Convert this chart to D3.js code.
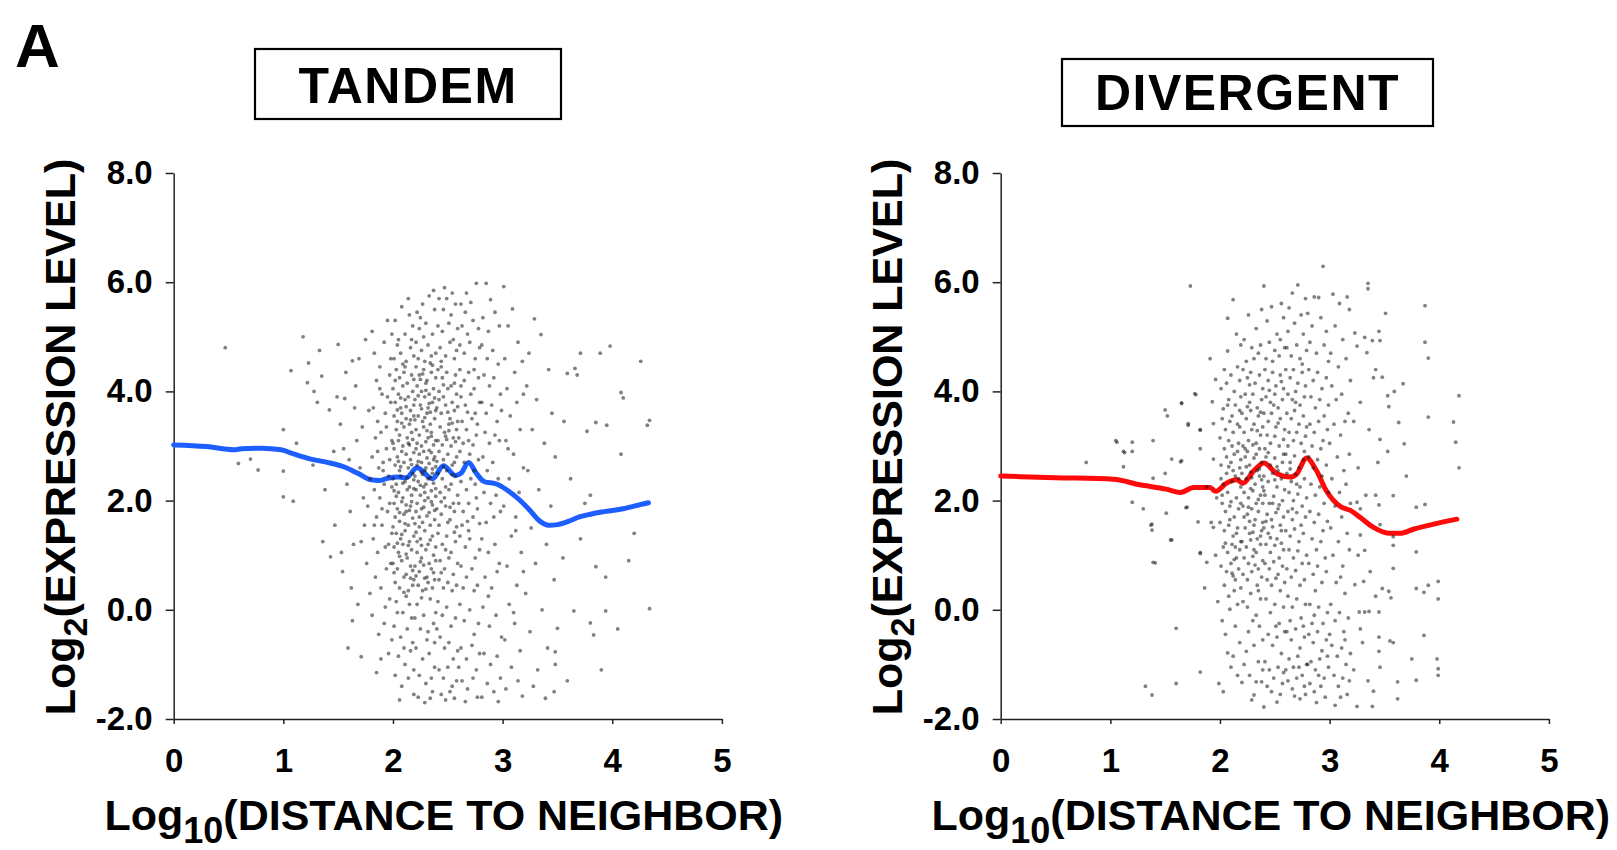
<!DOCTYPE html>
<html>
<head>
<meta charset="utf-8">
<script src="https://cdn.jsdelivr.net/npm/d3@7"></script>
<style>
  html, body { margin: 0; padding: 0; background: #fff; }
  svg { display: block; font-family: "Liberation Sans", Arial, Helvetica, sans-serif; font-weight: bold; }
</style>
</head>
<body>
<svg id="chart" width="1617" height="850"></svg>
<script>
// Axis ticks
const xTicks = [0, 1, 2, 3, 4, 5];
const yTicks = [-2, 0, 2, 4, 6, 8];
const panelTitles = ["TANDEM", "DIVERGENT"];

// Running-average trend: [log10 distance, log2 expression]
const tandemTrend = [[0,3.02],[0.3,2.99],[0.55,2.93],[0.62,2.95],[0.8,2.96],[0.98,2.93],[1.1,2.85],[1.25,2.76],[1.4,2.70],[1.55,2.62],[1.68,2.50],[1.8,2.38],[1.88,2.37],[1.95,2.41],[2.05,2.43],[2.12,2.42],[2.22,2.60],[2.36,2.40],[2.46,2.64],[2.57,2.46],[2.62,2.50],[2.69,2.70],[2.76,2.50],[2.83,2.35],[2.95,2.30],[3.05,2.18],[3.15,2.02],[3.25,1.82],[3.33,1.64],[3.42,1.55],[3.5,1.56],[3.6,1.62],[3.7,1.70],[3.8,1.75],[3.9,1.79],[4.0,1.82],[4.1,1.85],[4.2,1.90],[4.33,1.96]];
const divergentTrend = [[0,2.45],[0.5,2.42],[1.03,2.39],[1.27,2.29],[1.51,2.21],[1.64,2.15],[1.76,2.24],[1.91,2.24],[1.96,2.17],[2.06,2.32],[2.15,2.38],[2.21,2.32],[2.31,2.55],[2.40,2.69],[2.52,2.49],[2.64,2.43],[2.70,2.49],[2.79,2.78],[2.88,2.55],[2.97,2.18],[3.10,1.89],[3.19,1.82],[3.28,1.69],[3.40,1.51],[3.55,1.40],[3.64,1.40],[3.77,1.48],[3.95,1.57],[4.16,1.66]];

// Individual genes: [log10 distance, log2 expression]
const tandemPoints = [
[0.47,4.80],[0.59,2.68],[0.70,2.76],[0.77,2.56],[1.00,2.54],[1.00,2.07],[1.09,1.99],[1.18,5.00],[1.07,4.38],[1.23,4.52],[1.33,4.75],[1.22,4.16],[1.35,4.28],[1.28,4.00],[1.31,3.80],[1.00,3.30],[1.42,3.66],[1.49,3.90],[1.43,0.97],[1.46,2.90],[1.27,2.65],[1.38,2.20],[1.12,3.05],[1.47,1.55],[1.36,1.25],
[1.50,4.86],[1.56,3.87],[1.63,4.56],[1.69,4.60],[1.59,-0.70],[1.71,-0.86],[1.52,3.40],[1.55,2.95],[1.58,2.30],[1.61,1.80],[1.64,1.20],[1.67,3.10],[1.70,2.60],[1.73,2.05],[1.76,0.85],[1.78,3.65],[1.53,1.05],[1.62,0.40],[1.66,4.10],[1.72,3.35],[1.74,1.55],[1.57,4.35],[1.79,2.40],[1.68,0.10],[1.75,4.95],[1.60,2.75],[1.77,1.90],[1.65,3.70],[1.71,1.25],[1.54,0.70],[1.79,0.30],[1.63,-0.20],
[1.81,5.10],[1.95,5.30],[1.83,4.70],[1.88,4.45],[1.92,4.90],[1.85,4.20],[1.90,3.95],[1.97,4.30],[1.82,3.70],[1.86,3.45],[1.93,3.60],[1.98,3.80],[1.84,3.15],[1.89,3.25],[1.94,2.95],[1.99,3.10],[1.81,2.80],[1.87,2.60],[1.91,2.70],[1.96,2.45],[1.83,2.20],[1.88,2.05],[1.92,2.30],[1.97,1.95],[1.85,1.70],[1.90,1.55],[1.95,1.80],[1.99,1.40],[1.82,1.30],[1.86,1.05],[1.93,1.15],[1.98,0.85],[1.84,0.60],[1.89,0.40],[1.94,0.75],[1.97,0.20],[1.81,-0.10],[1.87,-0.45],[1.92,-0.25],[1.96,-0.80],[1.85,-1.15],[1.99,-0.55],[1.91,2.55],[1.94,3.35],[1.96,1.20],[1.88,4.05],[1.99,2.25],[1.93,0.05],[1.98,4.60],[1.86,2.90],[1.90,1.85],[1.95,3.90],[1.83,1.55],[1.97,2.75],[1.89,-0.90],[1.99,5.05],
[2.02,5.30],[2.08,5.55],[2.14,5.70],[2.18,5.20],[2.05,4.95],[2.11,5.05],[2.16,4.80],[2.01,4.60],[2.07,4.70],[2.12,4.55],[2.19,4.65],[2.04,4.85],[2.15,5.40],[2.09,4.50],[2.17,4.95],
[2.03,4.40],[2.06,4.25],[2.10,4.35],[2.13,4.15],[2.17,4.30],[2.00,4.05],[2.05,3.95],[2.09,4.10],[2.14,3.90],[2.18,4.00],[2.02,3.80],[2.07,3.70],[2.11,3.85],[2.16,3.65],[2.19,3.75],[2.01,3.55],[2.04,3.45],[2.08,3.60],[2.12,3.50],[2.15,3.40],[2.19,3.55],[2.03,3.30],[2.06,3.20],[2.10,3.35],[2.13,3.15],[2.17,3.25],[2.00,3.05],[2.05,3.10],[2.09,3.00],[2.14,3.05],[2.18,3.12],[2.11,4.45],[2.07,3.88],[2.16,3.48],[2.02,4.20],[2.12,3.72],[2.19,4.22],[2.04,3.66],[2.15,3.02],[2.08,3.42],
[2.01,2.95],[2.04,2.80],[2.08,2.90],[2.12,2.85],[2.16,2.75],[2.19,2.88],[2.02,2.65],[2.06,2.55],[2.10,2.70],[2.14,2.60],[2.18,2.50],[2.00,2.40],[2.03,2.30],[2.07,2.45],[2.11,2.35],[2.15,2.25],[2.19,2.38],[2.05,2.15],[2.09,2.05],[2.13,2.20],[2.17,2.10],[2.01,1.95],[2.04,1.85],[2.08,1.98],[2.12,1.80],[2.16,1.90],[2.02,1.70],[2.06,1.62],[2.10,1.75],[2.14,1.55],[2.18,1.68],[2.00,1.52],[2.07,2.62],[2.13,2.42],[2.17,1.98],[2.03,2.08],[2.11,1.58],[2.19,2.22],[2.05,2.72],[2.15,1.82],[2.09,2.32],[2.01,2.18],[2.17,2.66],[2.12,1.92],[2.06,1.78],
[2.03,1.40],[2.07,1.30],[2.11,1.45],[2.15,1.25],[2.19,1.35],[2.01,1.15],[2.05,1.05],[2.09,1.20],[2.13,0.95],[2.17,1.10],[2.00,0.85],[2.04,0.75],[2.08,0.90],[2.12,0.65],[2.16,0.80],[2.19,0.55],[2.02,0.50],[2.06,0.40],[2.10,0.60],[2.14,0.35],[2.18,0.45],[2.08,1.38],[2.12,1.02],[2.16,0.58],[2.04,1.22],[2.10,0.32],[2.06,0.98],[2.14,1.18],[2.18,0.72],[2.01,0.68],
[2.03,0.15],[2.09,-0.05],[2.15,0.10],[2.01,-0.30],[2.07,-0.50],[2.13,-0.35],[2.18,-0.60],[2.05,-0.85],[2.11,-1.00],[2.16,-0.75],[2.02,-1.20],[2.08,-1.40],[2.14,-1.25],[2.19,-1.55],[2.06,-1.65],[2.12,0.25],[2.17,-0.15],[2.04,-0.05],[2.10,-0.70],[2.19,-1.10],
[2.22,5.45],[2.27,5.60],[2.33,5.75],[2.38,5.50],[2.24,5.15],[2.30,5.25],[2.36,5.05],[2.21,4.90],[2.26,4.75],[2.32,4.85],[2.39,4.70],[2.23,4.60],[2.29,4.55],[2.35,4.65],[2.37,5.85],[2.28,5.00],[2.34,4.52],[2.25,5.35],
[2.21,4.45],[2.24,4.30],[2.28,4.40],[2.31,4.20],[2.35,4.35],[2.39,4.25],[2.22,4.10],[2.26,4.00],[2.30,4.15],[2.33,3.95],[2.37,4.05],[2.20,3.85],[2.25,3.75],[2.29,3.90],[2.32,3.70],[2.36,3.80],[2.39,3.65],[2.23,3.55],[2.27,3.45],[2.31,3.60],[2.34,3.40],[2.38,3.50],[2.21,3.30],[2.24,3.20],[2.28,3.35],[2.32,3.15],[2.35,3.25],[2.39,3.10],[2.22,3.05],[2.26,3.00],[2.30,3.08],[2.37,3.02],[2.25,4.22],[2.33,3.78],[2.29,3.52],[2.36,4.48],[2.23,3.92],[2.31,3.28],[2.38,3.88],[2.27,4.32],[2.34,3.62],[2.20,3.48],[2.26,3.68],[2.35,3.18],[2.30,4.02],
[2.21,2.95],[2.24,2.85],[2.28,2.90],[2.31,2.78],[2.35,2.88],[2.38,2.80],[2.22,2.65],[2.26,2.70],[2.29,2.55],[2.33,2.68],[2.36,2.58],[2.39,2.62],[2.20,2.45],[2.23,2.35],[2.27,2.48],[2.30,2.30],[2.34,2.42],[2.37,2.32],[2.21,2.20],[2.25,2.10],[2.28,2.25],[2.32,2.05],[2.35,2.18],[2.39,2.08],[2.22,1.95],[2.26,1.85],[2.29,2.00],[2.33,1.78],[2.36,1.92],[2.24,1.70],[2.27,1.60],[2.31,1.72],[2.34,1.55],[2.38,1.65],[2.20,1.58],[2.23,2.72],[2.30,2.60],[2.37,2.75],[2.25,2.28],[2.32,2.40],[2.39,2.22],[2.28,1.88],[2.35,1.98],[2.21,1.80],[2.33,2.92],[2.26,2.52],[2.38,1.82],[2.29,2.15],[2.24,1.52],[2.36,2.50],
[2.21,1.42],[2.25,1.30],[2.29,1.45],[2.32,1.20],[2.36,1.35],[2.39,1.15],[2.22,1.05],[2.26,0.95],[2.30,1.10],[2.33,0.85],[2.37,1.00],[2.20,0.80],[2.24,0.70],[2.28,0.82],[2.31,0.60],[2.35,0.75],[2.38,0.55],[2.23,0.45],[2.27,0.35],[2.32,0.50],[2.36,0.40],[2.21,0.62],[2.34,1.28],[2.26,1.18],[2.39,0.90],[2.29,0.58],[2.22,1.25],[2.37,0.68],[2.30,0.38],[2.25,0.88],
[2.22,0.10],[2.28,-0.10],[2.34,0.20],[2.39,-0.05],[2.25,-0.35],[2.31,-0.55],[2.37,-0.25],[2.21,-0.70],[2.27,-0.90],[2.33,-0.80],[2.38,-1.05],[2.24,-1.20],[2.30,-1.35],[2.36,-1.50],[2.23,-1.60],[2.29,-1.70],[2.35,-1.25],[2.26,0.22],[2.32,-0.40],[2.38,-0.60],[2.20,-0.15],[2.34,-1.62],
[2.42,5.70],[2.46,5.50],[2.49,5.70],[2.53,5.40],[2.57,5.60],[2.41,5.20],[2.45,5.10],[2.51,5.25],[2.55,4.95],[2.59,5.15],[2.43,4.80],[2.48,4.65],[2.52,4.90],[2.56,4.60],[2.44,4.55],[2.58,4.75],[2.47,5.90],[2.54,5.80],
[2.41,4.40],[2.45,4.25],[2.49,4.35],[2.53,4.10],[2.57,4.30],[2.42,4.00],[2.46,3.90],[2.50,4.05],[2.54,3.80],[2.58,3.95],[2.40,3.70],[2.44,3.60],[2.48,3.75],[2.52,3.50],[2.56,3.65],[2.59,3.45],[2.43,3.35],[2.47,3.25],[2.51,3.40],[2.55,3.15],[2.58,3.30],[2.41,3.10],[2.45,3.02],[2.49,3.12],[2.53,3.00],[2.57,3.08],[2.44,4.45],[2.50,3.62],[2.56,4.15],[2.48,3.18],[2.42,3.85],[2.54,3.42],[2.46,4.12],[2.59,3.72],[2.51,3.28],
[2.42,2.90],[2.46,2.75],[2.50,2.85],[2.54,2.65],[2.58,2.80],[2.41,2.50],[2.45,2.40],[2.49,2.55],[2.53,2.30],[2.57,2.45],[2.43,2.15],[2.47,2.05],[2.51,2.20],[2.55,1.95],[2.59,2.10],[2.40,1.85],[2.44,1.75],[2.48,1.90],[2.52,1.65],[2.56,1.80],[2.42,1.55],[2.50,1.60],[2.58,1.52],[2.46,2.62],[2.54,2.48],[2.48,2.25],[2.56,2.70],[2.44,1.98],[2.52,1.88],[2.40,2.72],
[2.41,1.40],[2.45,1.20],[2.49,1.35],[2.53,1.05],[2.57,1.25],[2.43,0.90],[2.47,0.75],[2.51,0.95],[2.55,0.65],[2.59,0.85],[2.42,0.55],[2.46,0.40],[2.50,0.50],[2.54,0.35],[2.58,0.45],[2.48,1.10],[2.44,0.68],[2.56,1.42],
[2.41,0.15],[2.45,-0.10],[2.49,0.05],[2.53,-0.30],[2.57,-0.15],[2.43,-0.50],[2.47,-0.70],[2.51,-0.60],[2.55,-0.90],[2.59,-0.75],[2.42,-1.10],[2.46,-1.25],[2.50,-1.05],[2.54,-1.40],[2.58,-1.30],[2.44,-1.55],[2.48,-1.65],[2.52,-1.50],[2.56,-1.62],[2.40,-0.35],
[2.62,5.60],[2.66,5.45],[2.71,5.63],[2.76,5.98],[2.63,5.20],[2.68,5.05],[2.73,5.30],[2.78,5.15],[2.61,4.85],[2.65,4.70],[2.70,4.90],[2.75,4.60],[2.79,4.80],[2.67,5.80],
[2.61,4.40],[2.65,4.20],[2.69,4.35],[2.74,4.05],[2.78,4.25],[2.62,3.90],[2.66,3.75],[2.71,3.95],[2.75,3.60],[2.79,3.80],[2.63,3.45],[2.67,3.30],[2.72,3.50],[2.76,3.20],[2.60,3.15],[2.64,3.05],[2.69,3.10],[2.73,3.02],[2.77,3.40],[2.68,3.62],[2.62,4.10],[2.74,4.40],
[2.61,2.90],[2.65,2.70],[2.70,2.85],[2.74,2.55],[2.78,2.75],[2.62,2.35],[2.67,2.20],[2.71,2.40],[2.76,2.05],[2.60,1.95],[2.64,1.80],[2.69,1.95],[2.73,1.70],[2.77,1.85],[2.63,1.55],[2.68,1.62],[2.75,2.30],[2.79,1.58],
[2.61,1.35],[2.66,1.15],[2.70,1.30],[2.75,0.95],[2.79,1.10],[2.62,0.80],[2.67,0.60],[2.72,0.75],[2.77,0.45],[2.64,0.40],[2.69,1.45],[2.74,0.35],
[2.61,0.10],[2.65,-0.20],[2.70,0.00],[2.74,-0.45],[2.78,-0.25],[2.62,-0.70],[2.67,-0.90],[2.72,-0.65],[2.76,-1.10],[2.63,-1.30],[2.68,-1.45],[2.73,-1.25],[2.77,-1.60],[2.60,-1.05],[2.66,-1.68],[2.79,-0.80],
[2.85,5.98],[2.89,5.68],[2.82,5.35],[2.87,5.10],[2.93,5.45],[2.97,5.20],[2.81,4.85],[2.86,4.60],[2.91,4.75],[2.96,4.50],
[2.83,4.30],[2.88,4.10],[2.92,4.25],[2.98,3.95],[2.81,3.80],[2.85,3.60],[2.90,3.75],[2.95,3.45],[2.99,3.65],[2.84,3.25],[2.88,3.05],[2.93,3.20],[2.97,3.10],
[2.82,2.80],[2.86,2.55],[2.91,2.70],[2.96,2.40],[2.83,2.15],[2.89,1.95],[2.94,2.10],[2.98,1.80],[2.85,1.60],[2.92,1.70],
[2.81,1.30],[2.87,1.05],[2.93,1.20],[2.97,0.85],[2.84,0.60],[2.90,0.40],[2.95,0.70],
[2.82,0.05],[2.88,-0.30],[2.94,-0.10],[2.99,-0.50],[2.83,-0.80],[2.89,-1.00],[2.95,-0.85],[2.86,-1.35],[2.92,-1.50],[2.98,-1.25],[2.81,-1.60],[2.96,-1.68],[2.87,0.25],
[3.01,5.92],[3.09,5.51],[3.05,5.20],[3.14,4.90],[3.02,4.60],[3.11,4.35],[3.18,4.55],[3.04,4.05],[3.13,3.80],[3.07,3.55],[3.16,3.30],[3.03,3.10],[3.10,2.85],[3.19,2.60],[3.06,2.40],[3.15,2.15],[3.01,1.90],[3.12,1.70],[3.08,1.35],[3.17,1.05],[3.04,0.80],[3.13,0.45],[3.19,0.70],[3.06,0.10],[3.11,-0.25],[3.02,-0.55],[3.16,-0.75],[3.08,-1.05],[3.14,-1.30],[3.03,-1.45],[3.18,-1.58],[3.10,-0.05],[3.05,2.95],[3.19,3.95],[3.12,1.45],
[3.29,5.33],[3.35,5.04],[3.24,4.70],[3.42,4.40],[3.22,4.10],[3.31,3.85],[3.45,3.60],[3.27,3.30],[3.38,3.05],[3.48,2.80],[3.23,2.55],[3.33,2.20],[3.44,1.90],[3.26,1.50],[3.40,1.20],[3.30,0.85],[3.47,0.55],[3.21,0.30],[3.36,0.00],[3.50,-0.34],[3.25,-0.40],[3.41,-0.70],[3.48,-0.77],[3.48,-1.00],[3.32,-1.10],[3.47,-1.50],[3.28,-1.40],[3.39,-1.62],
[3.56,3.45],[3.59,4.33],[3.68,4.30],[3.66,4.42],[3.71,4.70],[3.77,3.27],[3.85,3.43],[3.89,4.70],[3.95,3.38],[3.98,4.83],[3.62,2.40],[3.80,2.10],[3.71,1.30],[3.85,0.79],[3.94,0.60],[3.65,-0.02],[3.80,-0.24],[3.83,-0.46],[3.94,-0.02],[3.90,-1.10],[3.59,-1.30],[3.55,0.95],[3.75,1.95],
[4.08,3.98],[4.10,3.88],[4.26,4.55],[4.34,3.47],[4.32,3.38],[4.08,2.85],[4.34,0.02],[4.20,1.40],[4.05,-0.35],[4.15,0.90]
];

const divergentPoints = [
[0.78,2.70],[1.05,3.10],[1.20,3.07],[1.39,3.10],[1.12,2.90],[1.20,2.90],[1.12,2.62],[1.39,2.41],[1.20,1.97],[1.30,1.85],[1.38,1.57],[1.38,1.46],[1.51,1.77],[1.56,1.28],[1.65,2.73],[1.56,2.76],[1.70,1.88],[1.82,2.95],[1.82,3.30],[1.77,3.96],[1.65,3.79],[1.71,3.41],[1.94,2.76],[1.82,1.05],[1.39,0.87],[1.88,0.87],[1.96,1.00],[1.94,1.51],[1.94,3.41],[1.73,5.93],[1.50,3.66],[1.52,3.55],[1.65,3.78],[1.78,3.94],[1.71,3.38],[1.82,3.29],[1.64,2.71],[1.50,2.50],[1.96,4.22],[1.93,3.81],[1.37,1.55],[1.69,1.87],[1.41,0.86],[1.82,1.03],[1.80,1.61],[1.92,1.60],[1.60,-0.34],[1.32,-1.40],[1.38,-1.56],[1.60,-1.35],[1.82,-1.14],[1.99,-1.35],[1.06,3.07],[1.13,2.88],[1.55,1.28],[1.88,2.25],[1.97,2.05],[1.91,4.60],[1.86,0.40],[1.98,0.15],
[2.12,5.68],[2.07,5.34],[2.07,4.74],[2.03,3.68],[2.11,3.00],[2.18,3.65],[2.02,-0.20],[2.09,0.01],[2.11,0.67],[2.07,-0.79],[2.12,-0.85],[2.20,-1.33],[2.15,5.05],[2.19,4.85],[2.04,4.40],[2.10,4.30],[2.16,4.45],[2.01,4.05],[2.06,4.15],[2.13,4.00],[2.18,4.20],[2.08,3.85],[2.14,3.75],[2.19,3.90],[2.02,3.50],[2.05,3.30],[2.09,3.45],[2.12,3.25],[2.16,3.40],[2.00,3.15],[2.04,2.95],[2.08,3.10],[2.13,2.85],[2.17,3.05],[2.19,2.75],[2.01,2.65],[2.06,2.50],[2.10,2.70],[2.14,2.45],[2.18,2.60],[2.03,2.30],[2.07,2.15],[2.11,2.35],[2.15,2.05],[2.19,2.25],[2.02,1.95],[2.05,1.80],[2.09,1.90],[2.13,1.70],[2.17,1.85],[2.00,1.60],[2.04,1.45],[2.08,1.55],[2.12,1.35],[2.16,1.50],[2.19,1.25],[2.03,1.15],[2.07,1.05],[2.11,1.20],[2.15,0.95],[2.18,1.10],[2.01,0.80],[2.06,0.70],[2.10,0.85],[2.14,0.55],[2.17,0.75],[2.04,0.45],[2.13,0.35],[2.19,0.40],[2.08,0.25],[2.16,0.10],[2.05,-0.45],[2.14,-0.30],[2.18,-0.60],[2.10,-1.05],[2.16,-1.20],[2.03,-1.50],[2.12,2.55],[2.06,2.80],[2.17,2.40],[2.09,1.65],[2.15,1.40],[2.02,2.10],[2.19,1.95],[2.11,3.55],[2.05,1.22],[2.13,0.92],[2.18,3.35],[2.07,3.75],[2.16,2.90],[2.01,2.40],[2.10,1.98],[2.14,1.15],[2.08,2.62],[2.12,0.62],
[2.40,5.93],[2.26,5.40],[2.33,5.15],[2.38,5.50],[2.22,4.95],[2.29,4.80],[2.35,4.70],[2.24,4.55],[2.31,4.60],[2.37,4.85],
[2.21,4.40],[2.25,4.25],[2.28,4.35],[2.32,4.15],[2.36,4.30],[2.39,4.05],[2.23,3.95],[2.27,3.80],[2.30,3.95],[2.34,3.70],[2.38,3.85],[2.20,3.60],[2.24,3.50],[2.28,3.65],[2.31,3.40],[2.35,3.55],[2.39,3.35],[2.22,3.25],[2.26,3.10],[2.29,3.30],[2.33,3.05],[2.37,3.20],[2.21,3.00],[2.25,2.90],[2.30,3.02],[2.36,2.95],
[2.23,2.80],[2.27,2.65],[2.31,2.78],[2.34,2.55],[2.38,2.70],[2.20,2.50],[2.24,2.40],[2.28,2.52],[2.32,2.30],[2.36,2.45],[2.39,2.25],[2.22,2.15],[2.26,2.05],[2.30,2.18],[2.33,1.95],[2.37,2.10],[2.21,1.90],[2.25,1.75],[2.29,1.85],[2.32,1.65],[2.35,1.80],[2.39,1.60],[2.23,1.50],[2.27,1.40],[2.31,1.55],[2.34,1.30],[2.38,1.45],[2.20,1.25],[2.24,1.15],[2.28,1.28],[2.33,1.05],[2.37,1.20],[2.22,0.95],[2.26,0.85],[2.30,0.98],[2.35,0.75],[2.39,0.90],[2.21,0.65],[2.25,0.55],[2.29,0.70],[2.34,0.45],[2.38,0.60],
[2.23,2.95],[2.29,2.42],[2.35,2.02],[2.27,1.62],[2.37,1.35],[2.31,1.10],[2.24,2.62],[2.33,2.85],[2.39,1.95],[2.26,1.88],[2.36,2.58],[2.30,1.42],[2.22,1.70],[2.38,2.38],[2.28,2.22],[2.32,0.82],[2.25,3.72],[2.34,3.28],[2.27,4.12],[2.37,3.62],
[2.21,0.15],[2.24,-0.76],[2.28,0.30],[2.33,-0.10],[2.37,0.20],[2.26,-0.40],[2.31,-0.65],[2.36,-0.30],[2.22,-1.00],[2.33,-1.32],[2.38,-1.32],[2.31,-1.56],[2.27,-1.20],[2.35,-0.95],[2.39,-0.55],[2.29,-1.65],[2.25,0.05],[2.39,-1.10],[2.30,-0.20],[2.35,0.35],
[2.43,5.29],[2.56,5.61],[2.58,5.35],[2.47,5.55],[2.52,5.05],[2.45,4.90],[2.50,4.75],[2.55,4.95],[2.42,4.60],[2.48,4.55],[2.54,4.65],[2.59,4.80],
[2.41,4.40],[2.44,4.20],[2.48,4.35],[2.51,4.10],[2.55,4.30],[2.58,4.05],[2.42,3.90],[2.46,3.80],[2.50,3.95],[2.53,3.70],[2.57,3.85],[2.40,3.60],[2.44,3.45],[2.47,3.60],[2.51,3.35],[2.55,3.50],[2.59,3.30],[2.43,3.20],[2.46,3.05],[2.50,3.18],[2.54,3.00],[2.58,3.12],[2.41,2.95],[2.49,3.75],[2.56,4.18],[2.45,4.02],[2.53,3.42],
[2.42,2.80],[2.46,2.65],[2.50,2.78],[2.53,2.55],[2.57,2.70],[2.40,2.45],[2.44,2.35],[2.48,2.50],[2.52,2.25],[2.56,2.40],[2.59,2.20],[2.41,2.10],[2.45,1.95],[2.49,2.08],[2.53,1.85],[2.57,2.00],[2.43,1.75],[2.47,1.65],[2.51,1.78],[2.55,1.55],[2.58,1.70],[2.40,1.50],[2.44,1.40],[2.48,1.52],[2.52,1.30],[2.56,1.45],[2.42,1.20],[2.46,1.05],[2.50,1.18],[2.54,0.95],[2.58,1.10],[2.41,0.85],[2.45,0.75],[2.49,0.88],[2.53,0.65],[2.57,0.80],[2.43,0.55],[2.47,0.45],[2.51,0.58],[2.55,0.35],[2.59,0.50],
[2.44,2.88],[2.52,2.62],[2.48,1.95],[2.56,1.22],[2.42,1.62],[2.50,2.38],[2.58,2.85],[2.46,1.32],[2.54,1.92],[2.40,2.18],
[2.42,0.20],[2.46,-0.05],[2.50,0.10],[2.54,-0.25],[2.58,0.05],[2.44,-0.45],[2.48,-0.65],[2.52,-0.50],[2.56,-0.80],[2.41,-0.95],[2.45,-1.10],[2.49,-1.25],[2.53,-1.05],[2.57,-1.35],[2.40,-1.78],[2.52,-1.69],[2.47,-1.50],[2.55,-1.55],[2.59,-0.40],[2.43,-1.40],[2.51,-0.30],[2.58,-1.15],
[2.63,5.53],[2.78,5.70],[2.66,5.80],[2.71,5.95],[2.74,5.40],[2.62,5.10],[2.68,5.25],[2.76,5.05],[2.61,4.80],[2.65,4.65],[2.70,4.85],[2.73,4.60],[2.79,4.75],
[2.60,4.40],[2.64,4.25],[2.67,4.40],[2.71,4.15],[2.75,4.35],[2.78,4.10],[2.62,3.95],[2.66,3.85],[2.69,4.00],[2.73,3.75],[2.77,3.90],[2.61,3.60],[2.65,3.50],[2.68,3.65],[2.72,3.40],[2.76,3.55],[2.79,3.35],[2.63,3.25],[2.67,3.10],[2.70,3.25],[2.74,3.05],[2.78,3.18],[2.62,3.00],[2.69,3.80],[2.75,4.50],
[2.60,2.85],[2.64,2.70],[2.68,2.82],[2.72,2.60],[2.76,2.75],[2.61,2.50],[2.65,2.35],[2.69,2.48],[2.73,2.25],[2.77,2.40],[2.63,2.15],[2.67,2.00],[2.71,2.12],[2.75,1.90],[2.79,2.05],[2.62,1.80],[2.66,1.65],[2.70,1.78],[2.74,1.55],[2.78,1.70],[2.60,1.45],[2.64,1.35],[2.68,1.48],[2.72,1.25],[2.76,1.40],[2.63,1.10],[2.67,0.95],[2.71,1.08],[2.75,0.85],[2.79,1.00],[2.61,0.75],[2.65,0.60],[2.69,0.72],[2.73,0.45],[2.77,0.55],[2.64,2.58],[2.70,2.30],[2.77,2.90],[2.66,1.85],
[2.62,0.25],[2.66,0.05],[2.70,0.20],[2.74,-0.15],[2.78,0.10],[2.61,-0.40],[2.65,-0.55],[2.69,-0.35],[2.73,-0.70],[2.77,-0.50],[2.63,-0.90],[2.67,-1.05],[2.71,-0.85],[2.75,-1.20],[2.79,-1.00],[2.62,-1.30],[2.66,-1.45],[2.70,-1.25],[2.73,-1.63],[2.77,-1.40],[2.68,-1.58],[2.64,-0.20],[2.72,-1.05],[2.76,-0.30],[2.60,-1.10],[2.78,-1.55],
[2.94,6.29],[2.86,5.73],[2.90,5.72],[2.80,5.43],[2.84,5.20],[2.92,5.35],[2.97,5.10],[2.82,4.90],[2.88,4.70],[2.95,4.85],[2.99,4.55],
[2.81,4.40],[2.85,4.20],[2.89,4.35],[2.93,4.05],[2.97,4.25],[2.83,3.90],[2.87,3.70],[2.91,3.85],[2.95,3.55],[2.99,3.75],[2.82,3.40],[2.86,3.25],[2.90,3.45],[2.94,3.10],[2.98,3.30],[2.84,3.00],[2.92,2.95],
[2.81,2.80],[2.85,2.60],[2.89,2.75],[2.93,2.45],[2.97,2.65],[2.83,2.30],[2.87,2.10],[2.91,2.25],[2.95,1.95],[2.99,2.15],[2.82,1.80],[2.86,1.60],[2.90,1.75],[2.94,1.45],[2.98,1.62],[2.84,1.30],[2.88,1.10],[2.92,1.25],[2.96,0.95],[2.81,0.85],[2.85,0.65],[2.89,0.80],[2.93,0.50],[2.97,0.70],[2.87,0.35],
[2.82,0.10],[2.86,-0.10],[2.90,0.05],[2.94,-0.25],[2.98,-0.05],[2.81,-0.45],[2.85,-0.60],[2.89,-0.40],[2.93,-0.75],[2.97,-0.55],[2.83,-0.95],[2.87,-1.10],[2.91,-0.90],[2.95,-1.25],[2.99,-1.05],[2.82,-1.35],[2.86,-1.50],[2.88,-1.70],[2.92,-1.40],[2.96,-1.60],[2.84,-0.25],[2.90,-1.20],[2.98,-0.85],[2.80,-1.00],
[3.03,5.78],[3.09,5.61],[3.16,5.73],[3.18,5.50],[3.05,5.20],[3.12,4.95],[3.01,4.70],[3.08,4.45],[3.15,4.60],[3.19,4.20],[3.02,4.10],[3.06,3.85],[3.11,3.95],[3.17,3.60],[3.04,3.40],[3.10,3.20],[3.14,3.45],[3.00,3.05],[3.07,2.80],[3.13,2.55],[3.18,2.85],[3.02,2.40],[3.09,2.15],[3.15,2.30],[3.05,1.90],[3.11,1.70],[3.19,1.95],[3.01,1.50],[3.08,1.25],[3.16,1.40],[3.03,1.00],[3.12,0.80],[3.18,1.10],[3.06,0.50],[3.14,0.30],[3.10,0.60],
[3.01,0.10],[3.05,-0.20],[3.09,-0.05],[3.13,-0.40],[3.17,-0.15],[3.02,-0.65],[3.07,-0.85],[3.11,-0.70],[3.15,-1.00],[3.19,-0.80],[3.04,-1.20],[3.08,-1.40],[3.12,-1.25],[3.16,-1.55],[3.05,-1.75],[3.10,-1.60],[3.18,-1.30],[3.00,-0.45],[3.14,-0.55],
[3.35,5.98],[3.35,5.88],[3.23,5.07],[3.45,5.10],[3.46,4.93],[3.39,4.93],[3.32,4.99],[3.25,4.83],[3.34,4.71],[3.42,4.40],[3.48,4.26],[3.40,4.25],[3.46,3.12],[3.28,3.80],[3.22,3.45],[3.36,3.30],[3.44,2.70],[3.26,2.60],[3.45,1.92],[3.42,2.10],[3.33,2.10],[3.28,1.85],[3.25,1.97],[3.46,1.56],[3.28,1.37],[3.32,1.09],[3.26,1.00],[3.37,0.70],[3.31,0.52],[3.23,0.46],[3.48,0.39],[3.45,-0.04],[3.36,-0.03],[3.32,-0.04],[3.27,-0.04],[3.45,-0.50],[3.45,-0.76],[3.46,-1.05],[3.40,-1.49],[3.39,-1.77],[3.25,-1.77],[3.30,-0.60],[3.22,-1.10],[3.35,-1.30],[3.28,-0.35],[3.42,0.25],
[3.51,5.43],[3.87,5.57],[3.87,4.90],[3.90,4.61],[3.67,4.14],[3.53,3.92],[3.54,3.72],[3.59,4.00],[3.63,3.43],[3.68,3.04],[3.53,2.90],[3.90,3.53],[4.18,3.92],[4.13,3.44],[4.15,3.07],[4.18,2.60],[3.79,1.88],[3.87,1.93],[3.58,2.09],[3.79,1.06],[3.79,0.39],[3.86,0.32],[3.90,0.45],[3.99,0.52],[3.99,0.20],[3.86,-0.47],[3.98,-0.90],[3.99,-1.08],[3.99,-1.20],[3.79,-1.29],[3.62,-1.32],[3.62,-1.63],[3.58,1.34],[3.58,1.18],[3.58,0.76],[3.54,0.34],[3.56,0.22],[3.55,-0.57],[3.58,-0.60],[3.70,2.45],[3.75,-0.90]
];

// Layout of the two panels
const plotTop = 173, plotBottom = 719, plotWidth = 548.2;
const panels = [
  { title: panelTitles[0], trend: tandemTrend, points: tandemPoints, color: "#1d5eff",
    left: 173.7, box: { x: 255, y: 49, w: 306, h: 70 }, titleBaseline: 103 },
  { title: panelTitles[1], trend: divergentTrend, points: divergentPoints, color: "#ff0a0a",
    left: 1000.7, box: { x: 1062, y: 59, w: 371, h: 67 }, titleBaseline: 110 }
];

const svg = d3.select("#chart");

// Panel letter
svg.append("text")
  .attr("x", 15).attr("y", 67)
  .attr("font-size", 62)
  .attr("fill", "#000")
  .text("A");

panels.forEach(p => {
  const x = d3.scaleLinear().domain([0, 5]).range([p.left, p.left + plotWidth]);
  const y = d3.scaleLinear().domain([-2, 8]).range([plotBottom, plotTop]);
  const g = svg.append("g");

  // Title box
  g.append("rect")
    .attr("x", p.box.x).attr("y", p.box.y)
    .attr("width", p.box.w).attr("height", p.box.h)
    .attr("fill", "none").attr("stroke", "#000").attr("stroke-width", 2.2);
  g.append("text")
    .attr("x", p.box.x + p.box.w / 2).attr("y", p.titleBaseline)
    .attr("text-anchor", "middle")
    .attr("font-size", 50)
    .attr("letter-spacing", 1.5)
    .text(p.title);

  // Axes
  const yAxis = d3.axisLeft(y).tickValues(yTicks)
    .tickFormat(d => d.toFixed(1)).tickSize(8).tickSizeOuter(0).tickPadding(13);
  const xAxis = d3.axisBottom(x).tickValues(xTicks)
    .tickFormat(d => String(d)).tickSize(5).tickSizeOuter(0).tickPadding(25);

  const ya = g.append("g").attr("transform", `translate(${p.left},0)`).call(yAxis);
  const xa = g.append("g").attr("transform", `translate(0,${plotBottom})`).call(xAxis);
  [ya, xa].forEach(a => {
    a.attr("font-family", null).attr("font-size", null);
    a.selectAll("path.domain").attr("stroke", "#222").attr("stroke-width", 1.5);
    a.selectAll(".tick line").attr("stroke", "#222").attr("stroke-width", 1.5);
    a.selectAll(".tick text").attr("fill", "#000").attr("font-size", 33).attr("font-weight", "bold");
  });

  // Trend line (drawn beneath the dots)
  const line = d3.line().x(d => x(d[0])).y(d => y(d[1])).curve(d3.curveMonotoneX);
  g.append("path")
    .datum(p.trend)
    .attr("d", line)
    .attr("fill", "none")
    .attr("stroke", p.color)
    .attr("stroke-width", 5)
    .attr("stroke-linejoin", "round")
    .attr("stroke-linecap", "round");

  // Gene dots
  g.append("g").selectAll("circle")
    .data(p.points)
    .join("circle")
    .attr("cx", d => x(d[0]))
    .attr("cy", d => y(d[1]))
    .attr("r", 1.9)
    .attr("fill", "#1a1a1a")
    .attr("fill-opacity", 0.55);

  // Y axis title
  const yt = g.append("text")
    .attr("transform", `translate(${p.left - 99},437) rotate(-90)`)
    .attr("text-anchor", "middle")
    .attr("font-size", 43);
  yt.append("tspan").text("Log");
  yt.append("tspan").attr("font-size", 34).attr("dy", 12).text("2");
  yt.append("tspan").attr("dy", -12).text("(EXPRESSION LEVEL)");

  // X axis title
  const xt = g.append("text")
    .attr("x", p.left + plotWidth / 2 - 4).attr("y", 830)
    .attr("text-anchor", "middle")
    .attr("font-size", 43);
  xt.append("tspan").text("Log");
  xt.append("tspan").attr("font-size", 36).attr("dy", 13).text("10");
  xt.append("tspan").attr("dy", -13).text("(DISTANCE TO NEIGHBOR)");
});
</script>
</body>
</html>
